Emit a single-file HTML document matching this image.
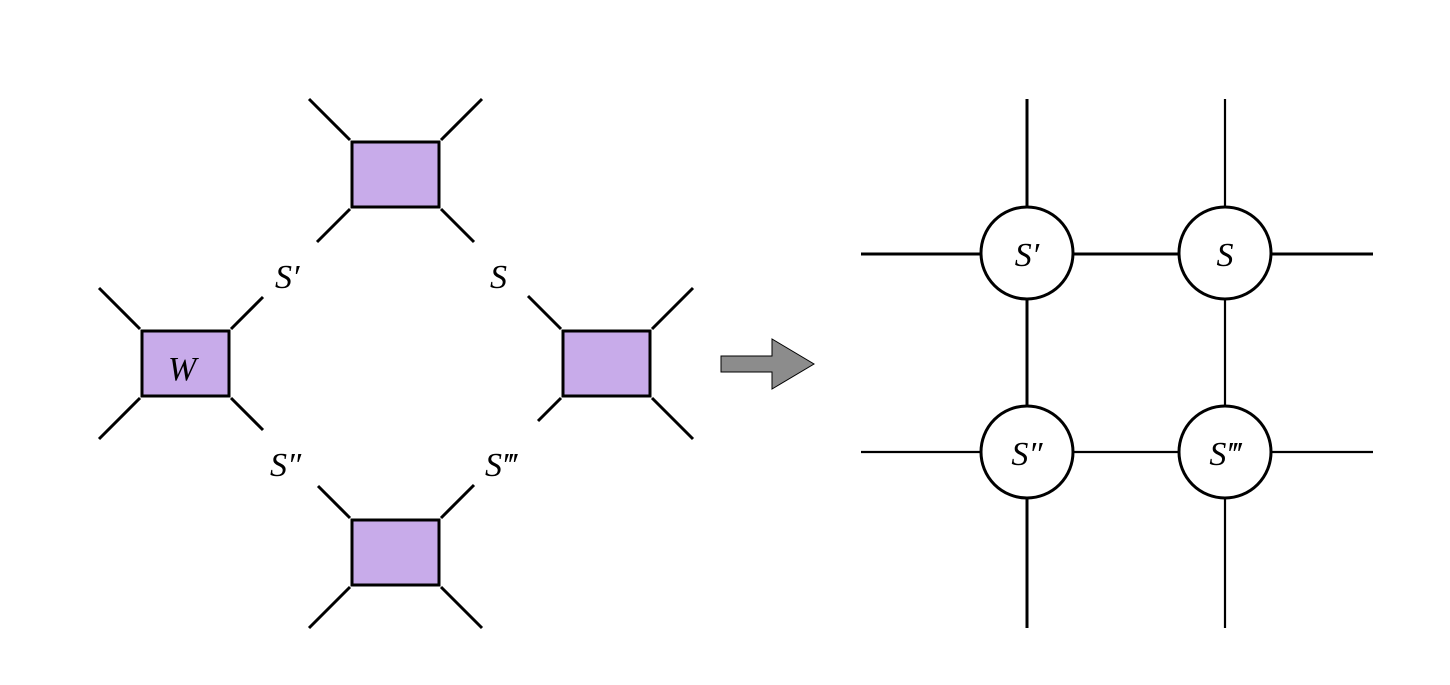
<!DOCTYPE html>
<html><head><style>body{margin:0;background:#fff}svg{display:block}text{font-family:"Liberation Serif",serif;font-style:italic;font-size:34px}</style></head>
<body>
<svg width="1450" height="685" xmlns="http://www.w3.org/2000/svg">
<g stroke="#000" stroke-width="3" fill="none">
<line x1="350" y1="140" x2="309" y2="99"/><line x1="441" y1="140" x2="482" y2="99"/>
<line x1="350" y1="209" x2="317" y2="242"/><line x1="441" y1="209" x2="474" y2="242"/>
<line x1="140" y1="329" x2="99" y2="288"/><line x1="231" y1="329" x2="263" y2="297"/>
<line x1="140" y1="398" x2="99" y2="439"/><line x1="231" y1="398" x2="263" y2="430"/>
<line x1="561" y1="329" x2="528" y2="296"/><line x1="652" y1="329" x2="693" y2="288"/>
<line x1="561" y1="398" x2="538" y2="421"/><line x1="652" y1="398" x2="693" y2="439"/>
<line x1="350" y1="518" x2="318" y2="486"/><line x1="441" y1="518" x2="474" y2="485"/>
<line x1="350" y1="587" x2="309" y2="628"/><line x1="441" y1="587" x2="482" y2="628"/>
</g>
<g stroke="#000" stroke-width="3" fill="#c8abea">
<rect x="352" y="142" width="87" height="65"/>
<rect x="142" y="331" width="87" height="65"/>
<rect x="563" y="331" width="87" height="65"/>
<rect x="352" y="520" width="87" height="65"/>
</g>
<text x="168" y="380">W</text>
<text x="275" y="288">S′</text>
<text x="490" y="288">S</text>
<text x="270" y="476">S″</text>
<text x="485" y="476">S‴</text>
<polygon points="721,356 772,356 772,339 814,364 772,389 772,372 721,372" fill="#8c8c8c" stroke="#000" stroke-width="1"/>
<g stroke="#000" fill="none">
<line x1="1027" y1="99" x2="1027" y2="628" stroke-width="3"/>
<line x1="1225" y1="99" x2="1225" y2="628" stroke-width="2.2"/>
<line x1="861" y1="254" x2="1373" y2="254" stroke-width="3"/>
<line x1="861" y1="452" x2="1373" y2="452" stroke-width="2.2"/>
</g>
<g stroke="#000" stroke-width="3" fill="#fff">
<circle cx="1027" cy="253" r="46"/><circle cx="1225" cy="253" r="46"/>
<circle cx="1027" cy="452" r="46"/><circle cx="1225" cy="452" r="46"/>
</g>
<text x="1027" y="266" text-anchor="middle">S′</text>
<text x="1225" y="266" text-anchor="middle">S</text>
<text x="1027" y="465" text-anchor="middle">S″</text>
<text x="1225" y="465" text-anchor="middle">S‴</text>
</svg>
</body></html>
